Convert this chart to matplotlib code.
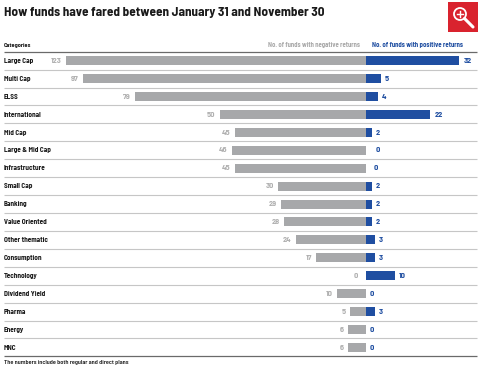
import matplotlib
matplotlib.use("Agg")
import matplotlib.pyplot as plt
from matplotlib.patches import Circle, Rectangle

plt.rcParams['font.family'] = ['Barlow Semi Condensed', 'Liberation Sans', 'DejaVu Sans']

categories = ["Large Cap", "Multi Cap", "ELSS", "International", "Mid Cap", "Large & Mid Cap",
              "Infrastructure", "Small Cap", "Banking", "Value Oriented", "Other thematic",
              "Consumption", "Technology", "Dividend Yield", "Pharma", "Energy", "MNC"]
negative = [123, 97, 79, 50, 45, 46, 45, 30, 29, 28, 24, 17, 0, 10, 5, 6, 6]
# the Large Cap bar is drawn shorter than its label in the original
negative_drawn = [102.7, 97, 79, 50, 45, 46, 45, 30, 29, 28, 24, 17, 0, 10, 5.4, 6, 6]
positive = [32, 5, 4, 22, 2, 0, 0, 2, 2, 2, 3, 3, 10, 0, 3, 0, 0]
# the two zero labels that sit further right than the others
positive_nudge = [0, 0, 0, 0, 0, 6, 4, 0, 0, 0, 0, 0, 0, 0, 0, 0, 0]

GREY = "#a7a8aa"
BLUE = "#1f4ea1"
W, H = 480, 372
PX_PER_UNIT = 2.92
ZERO_X = 366
TOP_Y = 51.7
ROW_H = 17.92

fig = plt.figure(figsize=(4.8, 3.72), dpi=100, facecolor="white")

# overlay in pixel coordinates for furniture and text
px = fig.add_axes([0, 0, 1, 1], zorder=3)
px.set_xlim(0, W)
px.set_ylim(H, 0)
px.axis("off")
px.patch.set_alpha(0)

# bars axis, rows top to bottom, zero at ZERO_X
ax = fig.add_axes([0, 0, 1, 1], zorder=2)
ax.set_xlim(-ZERO_X / PX_PER_UNIT, (W - ZERO_X) / PX_PER_UNIT)
ax.set_ylim((H - TOP_Y) / ROW_H - 0.5, -TOP_Y / ROW_H - 0.5)
ax.axis("off")
ax.patch.set_alpha(0)

rows = list(range(len(categories)))
ax.barh(rows, [-v for v in negative_drawn], height=0.5, color=GREY, linewidth=0)
ax.barh(rows, positive, height=0.5, color=BLUE, linewidth=0)

for i in rows:
    y = ax.transData.transform((0, i))
    ypx = H - y[1] + 2.2
    px.text(4, ypx, categories[i], fontsize=5.2, fontweight="bold", color="#1a1a1a", va="baseline", ha="left")
    xn = ZERO_X - negative_drawn[i] * PX_PER_UNIT - (8 if negative[i] == 0 else 4.5)
    px.text(xn, ypx, str(negative[i]), fontsize=6, fontweight="bold", color="#b0b0b0", va="baseline", ha="right")
    xp = ZERO_X + positive[i] * PX_PER_UNIT + 4 + positive_nudge[i]
    px.text(xp, ypx, str(positive[i]), fontsize=6, fontweight="bold", color=BLUE, va="baseline", ha="left")
    if i < len(categories) - 1:
        yl = TOP_Y + ROW_H * (i + 1)
        px.plot([4, 477], [yl, yl], color="#c6c6c6", lw=0.8, solid_capstyle="butt")

px.plot([4, 477], [TOP_Y, TOP_Y], color="#6a6a6a", lw=0.9, solid_capstyle="butt")
bottom = TOP_Y + ROW_H * len(categories)
px.plot([4, 477], [bottom, bottom], color="#6a6a6a", lw=0.9, solid_capstyle="butt")

px.text(4, 15.8, "How funds have fared between January 31 and November 30", fontsize=9.5,
        fontweight="bold", color="#1a1a1a", va="baseline", ha="left")
px.text(4, 46.5, "Categories", fontsize=4.5, fontweight="bold", color="#1a1a1a", va="baseline", ha="left")
px.text(360, 46.5, "No. of funds with negative returns", fontsize=4.85, fontweight="bold",
        color="#a9a9a9", va="baseline", ha="right")
px.text(372, 46.5, "No. of funds with positive returns", fontsize=4.9, fontweight="bold",
        color=BLUE, va="baseline", ha="left")
px.text(4, 364, "The numbers include both regular and direct plans", fontsize=4.5,
        color="#1a1a1a", fontweight="semibold", va="baseline", ha="left")

# zoom icon
px.add_patch(Rectangle((448, 2), 30, 30, facecolor="#d9232e", edgecolor="none"))
px.add_patch(Circle((460, 14), 6, facecolor="none", edgecolor="white", lw=1.3))
px.plot([464.5, 473], [18.5, 27], color="white", lw=2.2, solid_capstyle="round")
px.plot([457, 463], [14, 14], color="white", lw=1.0)
px.plot([460, 460], [11, 17], color="white", lw=1.0)

fig.savefig("out.png", dpi=100)
